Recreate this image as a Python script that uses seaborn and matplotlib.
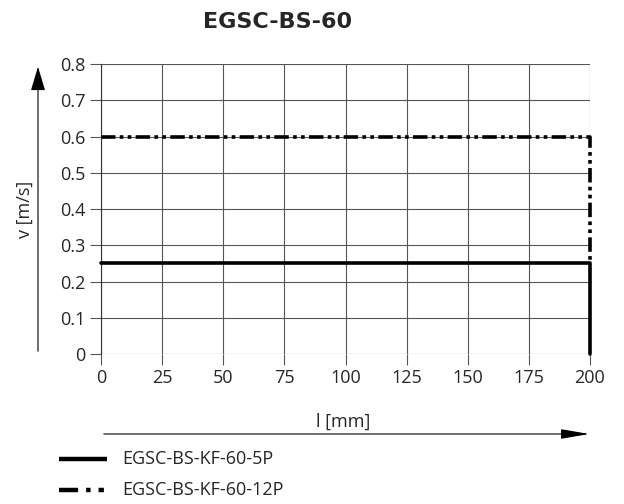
import pandas as pd
import matplotlib
matplotlib.use('Agg')
import matplotlib.pyplot as plt
import seaborn as sns

# data
l_5p = [0, 200, 200]
v_5p = [0.25, 0.25, 0.0]
l_12p = [0, 200, 200]
v_12p = [0.6, 0.6, 0.25]
series_names = ['EGSC-BS-KF-60-5P', 'EGSC-BS-KF-60-12P']
x_ticks = [0, 25, 50, 75, 100, 125, 150, 175, 200]
y_ticks = [0, 0.1, 0.2, 0.3, 0.4, 0.5, 0.6, 0.7, 0.8]

df = pd.concat([
    pd.DataFrame({'l': l_5p, 'v': v_5p, 'series': series_names[0], 'order': range(3)}),
    pd.DataFrame({'l': l_12p, 'v': v_12p, 'series': series_names[1], 'order': range(3)}),
])

sns.set_style('white')
plt.rcParams['font.family'] = ['Open Sans', 'DejaVu Sans']

fig = plt.figure(figsize=(6.24, 5.04), dpi=100)
ax = fig.add_axes([0.162, 0.2976, 0.7835, 0.5754])

dash_style = {series_names[0]: '', series_names[1]: (4, 1.2, 1, 1.2, 1, 1.2)}
sns.lineplot(data=df, x='l', y='v', hue='series', style='series', sort=False,
             palette=['black', 'black'], dashes=dash_style, linewidth=2.6,
             estimator=None, legend=False, ax=ax, zorder=3)
for ln in ax.get_lines():
    ln.set_clip_on(False)

ax.set_xlim(0, 200)
ax.set_ylim(0, 0.8)
ax.set_xticks(x_ticks)
ax.set_yticks(y_ticks)
ax.set_xticklabels([str(t) for t in x_ticks])
ax.set_yticklabels(['0'] + [f'{t:.1f}' for t in y_ticks[1:]])
ax.grid(True, color='#555555', linewidth=0.8)
for s in ax.spines.values():
    s.set_visible(False)
ax.spines['left'].set_visible(True)
ax.spines['left'].set_color('#333333')
ax.spines['left'].set_linewidth(0.8)
ax.tick_params(axis='both', length=8, width=0.8, color='#555555', labelsize=13,
               direction='out', pad=3, left=True, bottom=True)
ax.set_xlabel('')
ax.set_ylabel('')

# axis arrows and labels
fig.add_artist(matplotlib.patches.FancyArrowPatch(
    (38 / 624, 1 - 354 / 504), (38 / 624, 1 - 64 / 504), transform=fig.transFigure,
    arrowstyle='-|>,head_length=6,head_width=1.8', color='black', linewidth=0.8,
    mutation_scale=2.5))
fig.add_artist(matplotlib.patches.FancyArrowPatch(
    (101 / 624, 1 - 434 / 504), (592 / 624, 1 - 434 / 504), transform=fig.transFigure,
    arrowstyle='-|>,head_length=7,head_width=1.2', color='black', linewidth=0.8,
    mutation_scale=2.5))
fig.text(25 / 624, 1 - 209 / 504, 'v [m/s]', rotation=90, ha='center', va='center', fontsize=13)
fig.text(343 / 624, 1 - 422 / 504, 'l [mm]', ha='center', va='center', fontsize=13)

fig.text(278 / 624, 1 - 22 / 504, 'EGSC-BS-60', ha='center', va='center',
         fontsize=16, fontweight='bold', family=['DejaVu Sans'])

# legend drawn by hand in figure coords
leg_y = [459, 490]
for name, y in zip(series_names, leg_y):
    yy = 1 - y / 504
    ls = '-' if dash_style[name] == '' else (0, (4.3, 1.8, 1, 1.8, 1.2, 5))
    fig.add_artist(matplotlib.lines.Line2D([59 / 624, 107 / 624], [yy, yy],
                                           color='black', linewidth=3.2, linestyle=ls,
                                           solid_capstyle='butt', dash_capstyle='butt'))
    fig.text(122 / 624, yy, name, ha='left', va='center', fontsize=13)

plt.savefig('out.png', dpi=100)
plt.close()
